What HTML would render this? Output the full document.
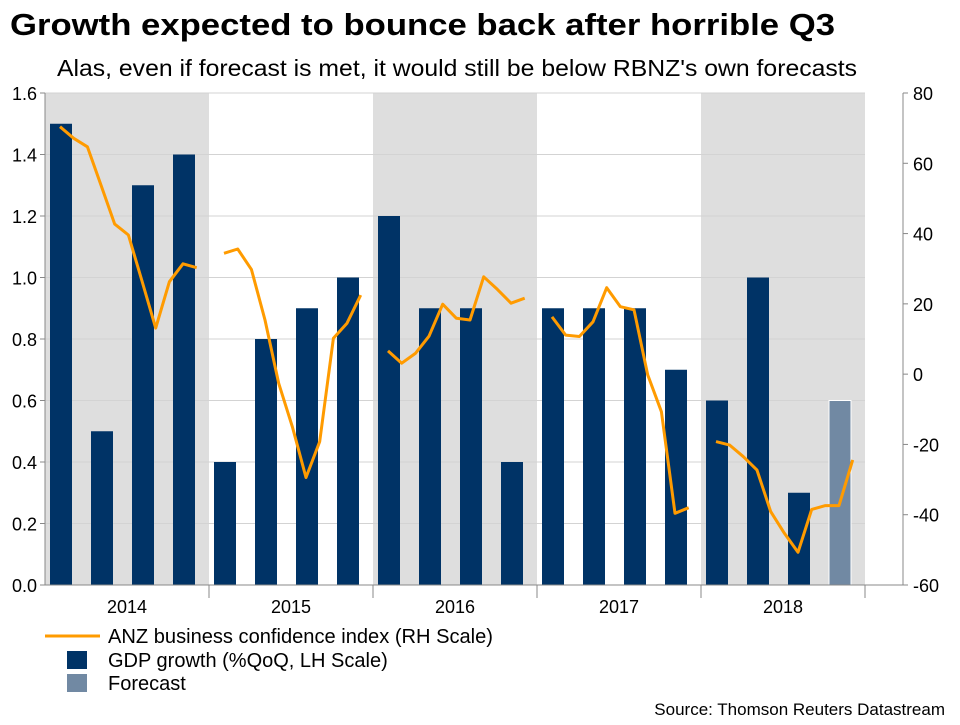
<!DOCTYPE html>
<html><head><meta charset="utf-8"><style>
body{margin:0;background:#fff;font-family:"Liberation Sans",Arial,sans-serif}
svg text{font-family:"Liberation Sans",Arial,sans-serif}
</style></head><body>
<svg id="c" width="960" height="720" viewBox="0 0 960 720">
<text x="10" y="35" font-size="31" font-weight="bold" fill="#000" textLength="825" lengthAdjust="spacingAndGlyphs">Growth expected to bounce back after horrible Q3</text>
<text x="57" y="76" font-size="23" fill="#000" textLength="800" lengthAdjust="spacingAndGlyphs">Alas, even if forecast is met, it would still be below RBNZ's own forecasts</text>
<g id="plot"></g>
<g>
<line x1="45" y1="636" x2="100" y2="636" stroke="#FF9B00" stroke-width="3"/>
<text x="108" y="643" font-size="20" textLength="385" lengthAdjust="spacingAndGlyphs">ANZ business confidence index (RH Scale)</text>
<rect x="67" y="651" width="20" height="18" fill="#003366"/>
<text x="108" y="667" font-size="20">GDP growth (%QoQ, LH Scale)</text>
<rect x="67" y="674" width="20" height="18" fill="#7189A3"/>
<text x="108" y="690" font-size="20">Forecast</text>
</g>
<text x="945" y="715" font-size="17" text-anchor="end">Source: Thomson Reuters Datastream</text>
</svg>
<script>
const years = ["2014","2015","2016","2017","2018"];
const gdp = [1.5,0.5,1.3,1.4, 0.4,0.8,0.9,1.0, 1.2,0.9,0.9,0.4, 0.9,0.9,0.9,0.7, 0.6,1.0,0.3];
const forecast = [null,null,null,null, null,null,null,null, null,null,null,null, null,null,null,null, null,null,null,0.6];
const leftTicks = [0,0.2,0.4,0.6,0.8,1.0,1.2,1.4,1.6];
const rightTicks = [-60,-40,-20,0,20,40,60,80];
// ANZ monthly (Jan-Nov each year, Dec missing)
const anz2014 = [70.4,67.1,64.7,53.8,42.7,39.6,26.5,13.1,26.3,31.4,30.3];
const anz2015 = [34.4,35.6,29.8,15.4,-2.6,-15.0,-29.4,-19.2,10.2,14.5,22.5];
const anz2016 = [6.6,3.1,5.9,10.8,19.9,15.9,15.4,27.7,24.1,20.2,21.6];
const anz2017 = [16.3,11.1,10.7,14.9,24.6,19.2,18.3,-0.2,-10.7,-39.6,-38.0];
const anz2018 = [-19.2,-20.2,-23.5,-27.3,-39.1,-45.3,-50.7,-38.5,-37.4,-37.4,-24.4];
const anzSeries = [anz2014,anz2015,anz2016,anz2017,anz2018];

const NS="http://www.w3.org/2000/svg";
const g=document.getElementById('plot');
const X0=45,X1=865,YT=93,YB=585;
const yL=v=>YB-(v-0)/(1.6-0)*(YB-YT);
const yR=v=>YB-(v+60)/140*(YB-YT);
const yearW=(X1-X0)/years.length, qW=yearW/4, mW=yearW/12;
const xQ=i=>X0+qW*i+5;
const xM=(yr,m)=>X0+yr*yearW+(m+1.1)*mW;
function mk(t,a,p){const e=document.createElementNS(NS,t);for(const k in a)e.setAttribute(k,a[k]);(p||g).appendChild(e);return e;}

years.forEach((y,i)=>{
  if(i%2===0){const r=mk('rect',{x:X0+i*yearW,y:YT,width:yearW,height:YB-YT,fill:'#DEDEDE'});
  
  }
});
leftTicks.forEach(t=>{
  const l=mk('line',{x1:X0,x2:X1,y1:yL(t),y2:yL(t),stroke:'#D3D3D3','stroke-width':1});
  
  
  const tk=mk('line',{x1:X0-5,x2:X0,y1:yL(t),y2:yL(t),stroke:'#888'});
  
  
  const tx=mk('text',{x:X0-8,y:yL(t)+7,'font-size':18,'text-anchor':'end',fill:'#000'});
  tx.textContent=t.toFixed(1);
  
  
});
rightTicks.forEach(t=>{
  const tk=mk('line',{x1:903,x2:908,y1:yR(t),y2:yR(t),stroke:'#888'});
  
  
  const tx=mk('text',{x:913,y:yR(t)+7,'font-size':18,fill:'#000'});
  tx.textContent=t;
  
  
});
gdp.forEach((v,i)=>{
  const r=mk('rect',{x:xQ(i),y:yL(v),width:22,height:YB-yL(v),fill:'#003366'});
  
  
});
forecast.forEach((v,i)=>{
  if(v==null)return;
  const r=mk('rect',{x:xQ(i),y:yL(v),width:22,height:YB-yL(v),fill:'#7189A3',stroke:'#fff','stroke-width':1});
  
  
});
anzSeries.forEach((s,yi)=>{
  const pts=s.map((v,m)=>xM(yi,m).toFixed(1)+','+yR(v).toFixed(1)).join(' ');
  const p=mk('polyline',{points:pts,fill:'none',stroke:'#FF9B00','stroke-width':3,'stroke-linejoin':'round'});
  
  
});
const ax=mk('line',{x1:X0,x2:X0,y1:YT,y2:YB,stroke:'#888'});


const ar=mk('line',{x1:903,x2:903,y1:YT,y2:YB,stroke:'#888'});


const bx=mk('line',{x1:X0,x2:903,y1:YB,y2:YB,stroke:'#888'});


years.forEach((y,i)=>{
  const tk=mk('line',{x1:X0+(i+1)*yearW,x2:X0+(i+1)*yearW,y1:YB,y2:YB+13,stroke:'#888'});
  
  
  const tx=mk('text',{x:X0+(i+0.5)*yearW,y:YB+28,'font-size':18,'text-anchor':'middle'});
  tx.textContent=y;
  
  
});
</script>
</body></html>
